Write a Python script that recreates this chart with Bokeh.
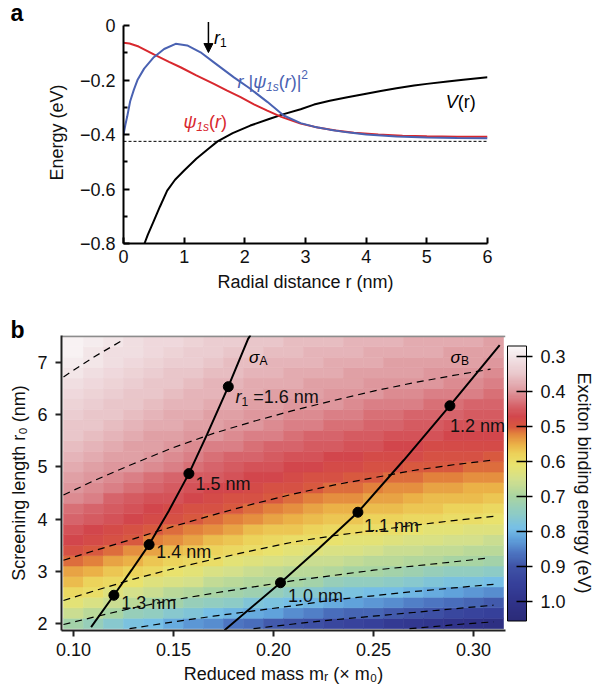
import numpy as np
from bokeh.plotting import figure
from bokeh.models import (Range1d, FixedTicker, CustomJSTickFormatter, Label, Arrow, Title,
                          NormalHead, LinearColorMapper, ColorBar, ColumnDataSource, AllLabels)
from bokeh.embed import file_html
from bokeh.resources import INLINE

FONT = "Liberation Sans"
BLUE = "#4a62b2"
RED = "#d8282e"

# ---------------- panel a data ----------------
A_XTICKS = [0, 1, 2, 3, 4, 5, 6]
A_YTICKS = [0, -0.2, -0.4, -0.6, -0.8]
A_YMINOR = [-0.1, -0.3, -0.5, -0.7]

R_V = [0.346, 0.40, 0.50, 0.60, 0.72, 0.85, 1.00, 1.20, 1.40, 1.55, 1.80, 2.09, 2.40, 2.64,
       2.92, 3.14, 3.40, 3.69, 4.00, 4.24, 4.50, 4.79, 5.00, 5.34, 5.60, 6.00]
E_V = [-0.800, -0.768, -0.717, -0.665, -0.606, -0.566, -0.532, -0.489, -0.452, -0.425, -0.395,
       -0.367, -0.343, -0.325, -0.307, -0.290, -0.276, -0.263, -0.250, -0.240, -0.230, -0.220,
       -0.214, -0.205, -0.199, -0.190]

R_PSI = [0.0, 0.1, 0.25, 0.5, 0.75, 0.94, 1.2, 1.49, 1.7, 1.93, 2.15, 2.37, 2.6, 2.92, 3.2,
         3.5, 3.8, 4.2, 4.6, 5.0, 5.5, 6.0]
E_PSI = [-0.063, -0.066, -0.077, -0.106, -0.133, -0.153, -0.183, -0.214, -0.238, -0.263,
         -0.289, -0.312, -0.335, -0.360, -0.374, -0.385, -0.393, -0.400, -0.404, -0.406,
         -0.408, -0.408]

R_RHO = [0.0, 0.03, 0.06, 0.11, 0.17, 0.23, 0.34, 0.50, 0.67, 0.86, 1.05, 1.27, 1.49, 1.82,
         2.09, 2.37, 2.64, 2.92, 3.14, 3.40, 3.69, 4.00, 4.50, 5.00, 5.50, 6.00]
E_RHO = [-0.400, -0.365, -0.335, -0.278, -0.236, -0.200, -0.158, -0.116, -0.086, -0.067,
         -0.073, -0.098, -0.135, -0.190, -0.232, -0.280, -0.330, -0.358, -0.371, -0.382,
         -0.392, -0.400, -0.407, -0.411, -0.413, -0.414]

E_LEVEL = -0.425
R_LEVEL = [0.0, 6.0]
R1_POS = 1.40

# ---------------- panel b data ----------------
B_XTICKS = [0.10, 0.15, 0.20, 0.25, 0.30]
B_YTICKS = [2, 3, 4, 5, 6, 7]
CB_TICKS = [0.3, 0.4, 0.5, 0.6, 0.7, 0.8, 0.9, 1.0]

M_CENTERS = [0.10, 0.11, 0.12, 0.13, 0.14, 0.15, 0.16, 0.17, 0.18, 0.19, 0.20,
             0.21, 0.22, 0.23, 0.24, 0.25, 0.26, 0.27, 0.28, 0.29, 0.30, 0.31]
R0_CENTERS = [2.0, 2.2, 2.4, 2.6, 2.8, 3.0, 3.2, 3.4, 3.6, 3.8, 4.0, 4.2, 4.4, 4.6,
              4.8, 5.0, 5.2, 5.4, 5.6, 5.8, 6.0, 6.2, 6.4, 6.6, 6.8, 7.0, 7.2, 7.4]

# exciton binding energy (eV), one list per reduced-mass column, bottom -> top
HEAT = [
    [0.71,0.66,0.62,0.59,0.56,0.54,0.51,0.49,0.47,0.46,0.44,0.43,0.41,0.40,0.39,0.38,0.37,0.36,0.35,0.35,0.34,0.33,0.32,0.31,0.30,0.29,0.28,0.28],
    [0.73,0.68,0.64,0.60,0.58,0.55,0.52,0.50,0.48,0.47,0.45,0.44,0.42,0.41,0.40,0.39,0.38,0.37,0.36,0.35,0.35,0.34,0.33,0.32,0.31,0.30,0.30,0.29],
    [0.76,0.70,0.66,0.63,0.59,0.57,0.54,0.51,0.49,0.48,0.46,0.45,0.44,0.42,0.41,0.40,0.39,0.38,0.37,0.36,0.35,0.35,0.34,0.33,0.32,0.31,0.31,0.30],
    [0.78,0.73,0.68,0.65,0.61,0.58,0.55,0.53,0.50,0.49,0.47,0.46,0.45,0.43,0.42,0.40,0.39,0.39,0.38,0.37,0.36,0.35,0.35,0.34,0.33,0.32,0.31,0.31],
    [0.79,0.74,0.70,0.66,0.63,0.59,0.57,0.54,0.52,0.50,0.48,0.47,0.46,0.44,0.43,0.41,0.40,0.39,0.39,0.38,0.37,0.36,0.35,0.35,0.34,0.33,0.32,0.32],
    [0.81,0.76,0.71,0.68,0.64,0.61,0.58,0.56,0.53,0.51,0.49,0.48,0.46,0.45,0.44,0.42,0.41,0.40,0.39,0.38,0.38,0.37,0.36,0.35,0.35,0.34,0.33,0.32],
    [0.83,0.77,0.73,0.69,0.65,0.62,0.59,0.57,0.54,0.52,0.50,0.49,0.47,0.46,0.45,0.43,0.42,0.41,0.40,0.39,0.38,0.37,0.37,0.36,0.35,0.34,0.34,0.33],
    [0.84,0.79,0.74,0.70,0.67,0.64,0.60,0.58,0.56,0.53,0.51,0.49,0.48,0.47,0.45,0.44,0.43,0.42,0.40,0.39,0.39,0.38,0.37,0.37,0.36,0.35,0.34,0.34],
    [0.86,0.80,0.75,0.71,0.68,0.65,0.62,0.59,0.57,0.54,0.52,0.50,0.49,0.47,0.46,0.45,0.44,0.42,0.41,0.40,0.39,0.38,0.38,0.37,0.36,0.36,0.35,0.34],
    [0.87,0.81,0.77,0.72,0.69,0.66,0.63,0.60,0.58,0.56,0.53,0.51,0.49,0.48,0.47,0.46,0.44,0.43,0.42,0.40,0.40,0.39,0.38,0.38,0.37,0.36,0.35,0.35],
    [0.89,0.82,0.78,0.73,0.69,0.67,0.64,0.61,0.59,0.57,0.54,0.52,0.50,0.49,0.47,0.46,0.45,0.44,0.42,0.41,0.40,0.39,0.39,0.38,0.37,0.37,0.36,0.35],
    [0.90,0.84,0.79,0.75,0.70,0.68,0.65,0.62,0.60,0.57,0.55,0.53,0.51,0.49,0.48,0.47,0.46,0.44,0.43,0.42,0.41,0.40,0.39,0.38,0.38,0.37,0.36,0.36],
    [0.91,0.85,0.80,0.76,0.71,0.68,0.66,0.63,0.60,0.58,0.56,0.54,0.52,0.50,0.49,0.47,0.46,0.45,0.44,0.42,0.41,0.40,0.39,0.39,0.38,0.37,0.37,0.36],
    [0.93,0.87,0.81,0.77,0.73,0.69,0.66,0.64,0.61,0.59,0.57,0.55,0.53,0.51,0.49,0.48,0.47,0.45,0.44,0.43,0.42,0.40,0.40,0.39,0.38,0.38,0.37,0.36],
    [0.94,0.88,0.82,0.78,0.74,0.70,0.67,0.64,0.62,0.59,0.57,0.55,0.53,0.51,0.50,0.48,0.47,0.46,0.45,0.43,0.42,0.41,0.40,0.39,0.39,0.38,0.37,0.37],
    [0.95,0.88,0.83,0.79,0.74,0.70,0.68,0.65,0.62,0.60,0.58,0.56,0.54,0.52,0.50,0.49,0.48,0.46,0.45,0.44,0.43,0.42,0.40,0.40,0.39,0.38,0.38,0.37],
    [0.97,0.89,0.84,0.79,0.75,0.71,0.68,0.66,0.63,0.60,0.58,0.56,0.54,0.53,0.51,0.49,0.48,0.47,0.46,0.44,0.43,0.42,0.41,0.40,0.39,0.39,0.38,0.37],
    [0.98,0.90,0.85,0.80,0.76,0.72,0.69,0.66,0.64,0.61,0.59,0.57,0.55,0.53,0.51,0.50,0.48,0.47,0.46,0.45,0.44,0.42,0.41,0.40,0.39,0.39,0.38,0.38],
    [0.99,0.91,0.86,0.81,0.77,0.73,0.69,0.67,0.64,0.62,0.59,0.57,0.56,0.54,0.52,0.50,0.49,0.48,0.46,0.45,0.44,0.43,0.42,0.40,0.40,0.39,0.38,0.38],
    [1.00,0.93,0.87,0.82,0.78,0.74,0.70,0.67,0.65,0.62,0.60,0.58,0.56,0.54,0.52,0.50,0.49,0.48,0.47,0.46,0.44,0.43,0.42,0.41,0.40,0.39,0.39,0.38],
    [1.01,0.94,0.88,0.83,0.78,0.74,0.70,0.68,0.65,0.63,0.60,0.58,0.56,0.55,0.53,0.51,0.49,0.48,0.47,0.46,0.45,0.44,0.42,0.41,0.40,0.39,0.39,0.38],
    [1.02,0.95,0.89,0.84,0.79,0.75,0.71,0.68,0.66,0.63,0.61,0.59,0.57,0.55,0.53,0.51,0.50,0.48,0.47,0.46,0.45,0.44,0.43,0.42,0.41,0.40,0.39,0.39],
]

# iso-energy contours (dashed), levels 0.3 ... 1.0 eV
C03_M = [0.095, 0.100, 0.110, 0.1235]
C03_R = [6.72, 6.85, 7.10, 7.40]
C04_M = [0.095, 0.11, 0.13, 0.15, 0.17, 0.19, 0.21, 0.23, 0.25, 0.27, 0.29, 0.3085]
C04_R = [4.46, 4.73, 5.06, 5.37, 5.64, 5.87, 6.08, 6.27, 6.45, 6.61, 6.75, 6.87]
C05_M = [0.095, 0.11, 0.13, 0.15, 0.17, 0.19, 0.21, 0.23, 0.25, 0.27, 0.29, 0.31]
C05_R = [3.21, 3.39, 3.62, 3.86, 4.08, 4.29, 4.48, 4.65, 4.79, 4.93, 5.04, 5.13]
C06_M = [0.095, 0.11, 0.13, 0.15, 0.17, 0.19, 0.21, 0.23, 0.25, 0.27, 0.29, 0.31]
C06_R = [2.44, 2.62, 2.85, 3.05, 3.23, 3.40, 3.56, 3.68, 3.78, 3.88, 3.97, 4.05]
C07_M = [0.095, 0.11, 0.13, 0.15, 0.17, 0.19, 0.21, 0.23, 0.25, 0.27, 0.29, 0.307]
C07_R = [1.98, 2.12, 2.30, 2.45, 2.58, 2.70, 2.82, 2.92, 3.02, 3.10, 3.18, 3.25]
C08_M = [0.128, 0.15, 0.17, 0.19, 0.21, 0.23, 0.25, 0.27, 0.29, 0.31]
C08_R = [1.90, 2.03, 2.14, 2.24, 2.34, 2.45, 2.53, 2.61, 2.68, 2.75]
C09_M = [0.19, 0.21, 0.23, 0.25, 0.27, 0.29, 0.31]
C09_R = [1.90, 1.99, 2.07, 2.14, 2.21, 2.28, 2.35]
C10_M = [0.268, 0.28, 0.295, 0.31]
C10_R = [1.90, 1.94, 1.99, 2.03]

SIGMA_A_M = [0.1088, 0.1202, 0.129, 0.1378, 0.1477, 0.1577, 0.1668, 0.1774, 0.1873, 0.1885]
SIGMA_A_R0 = [1.93, 2.54, 3.02, 3.51, 4.16, 4.87, 5.62, 6.535, 7.45, 7.52]
SIGMA_B_M = [0.1755, 0.2035, 0.2228, 0.2422, 0.2652, 0.2882, 0.3131]
SIGMA_B_R0 = [1.87, 2.78, 3.44, 4.13, 5.13, 6.17, 7.33]
DOT_A_M = [0.1202, 0.1378, 0.1577, 0.1774]
DOT_A_R0 = [2.54, 3.51, 4.87, 6.535]
DOT_B_M = [0.2035, 0.2422, 0.2882]
DOT_B_R0 = [2.78, 4.13, 6.17]
R1_A_LABELS = ["1.3 nm", "1.4 nm", "1.5 nm"]
R1_B_LABELS = ["1.0 nm", "1.1 nm", "1.2 nm"]

# ---------------- helpers ----------------
CW = {' ': 0.278, '(': 0.333, ')': 0.333, '.': 0.278, '=': 0.584, '|': 0.26, '\u00d7': 0.584,
      'A': 0.667, 'B': 0.667, 'E': 0.667, 'R': 0.722, 'S': 0.667, 'V': 0.667,
      'a': 0.556, 'b': 0.556, 'c': 0.5, 'd': 0.556, 'e': 0.556, 'g': 0.556, 'h': 0.556,
      'i': 0.222, 'l': 0.222, 'm': 0.833, 'n': 0.556, 'o': 0.556, 'r': 0.333, 's': 0.5,
      't': 0.278, 'u': 0.556, 'x': 0.5, 'y': 0.5, 'v': 0.5, '\u03c8': 0.71, '\u03c3': 0.62}


def tw(s, size):
    return sum(CW.get(c, 0.556) for c in s) * size


def rich(p, segs, x, y, align="left", color="#000000"):
    total = sum(tw(t, sz) for t, sz, st, sh in segs)
    pos = {"left": 0.0, "center": -total / 2.0, "right": -total}[align]
    for t, sz, st, sh in segs:
        body = t.lstrip(" ")
        lead = tw(t[:len(t) - len(body)], sz)
        p.add_layout(Label(x=x, y=y, x_offset=pos + lead, y_offset=sh, text=body,
                           text_align="left", text_baseline="alphabetic", text_font=FONT,
                           text_font_size=f"{sz}px", text_font_style=st, text_color=color))
        pos += tw(t, sz)


def style_axis(ax, lw, color, tin, tout, std, lstd):
    ax.axis_line_width = lw
    ax.axis_line_color = color
    ax.major_tick_line_width = lw
    ax.major_tick_line_color = color
    ax.major_tick_in = tin
    ax.major_tick_out = tout
    ax.major_label_standoff = std
    ax.major_label_text_font = FONT
    ax.major_label_text_font_size = "18px"
    ax.major_label_text_color = "#111111"
    ax.axis_label_text_font = FONT
    ax.axis_label_text_font_size = "18px"
    ax.axis_label_text_font_style = "normal"
    ax.axis_label_text_color = "#111111"
    ax.axis_label_standoff = lstd


def panel_letter(p, letter, offset, standoff):
    p.title.text = letter
    p.title.align = "left"
    p.title.offset = offset
    p.title.standoff = standoff
    p.title.text_font = FONT
    p.title.text_font_size = "23px"
    p.title.text_font_style = "bold"
    p.title.text_color = "black"


# ---------------- panel a ----------------
pa = figure(frame_width=364, frame_height=222, min_border_left=123, min_border_right=108,
            min_border_top=21, min_border_bottom=75, x_range=Range1d(0, 6),
            y_range=Range1d(-0.8, 0.015), output_backend="svg", toolbar_location=None, tools="")
pa.outline_line_color = None
pa.xgrid.visible = False
pa.ygrid.visible = False
panel_letter(pa, "a", -113, -9)

xa = pa.xaxis[0]
ya = pa.yaxis[0]
style_axis(xa, 2, "black", 6, 0, 6, 6)
style_axis(ya, 2, "black", 6, 0, 8, 10)
xa.ticker = FixedTicker(ticks=A_XTICKS)
xa.minor_tick_line_color = None
xa.axis_label = "Radial distance r (nm)"
ya.ticker = FixedTicker(ticks=A_YTICKS, minor_ticks=A_YMINOR)
ya.formatter = CustomJSTickFormatter(
    code="return tick == 0 ? '0' : '\\u2212' + Math.abs(tick).toFixed(1);")
ya.bounds = (-0.8, 0)
ya.minor_tick_in = 4
ya.minor_tick_out = 0
ya.minor_tick_line_width = 2
ya.minor_tick_line_color = "black"
ya.axis_label = "Energy (eV)"

pa.line(R_V, E_V, line_color="black", line_width=2)
pa.line(R_LEVEL, [E_LEVEL, E_LEVEL], line_color="black", line_width=1, line_dash="3 2")
pa.line(R_PSI, E_PSI, line_color=RED, line_width=2)
pa.line(R_RHO, E_RHO, line_color=BLUE, line_width=2)
pa.add_layout(Arrow(end=NormalHead(size=9, fill_color="black", line_color="black"),
                    x_start=R1_POS, y_start=0.013, x_end=R1_POS, y_end=-0.099,
                    line_color="black", line_width=1.5))

rich(pa, [("r", 18, "italic", 0), ("1", 12, "normal", -5)], 1.49, -0.044)
rich(pa, [("r", 18, "italic", 0), (" |", 18, "normal", 0), ("\u03c8", 18, "italic", 0),
          ("1s", 12, "italic", -5), ("(", 18, "normal", 0), ("r", 18, "italic", 0),
          (")", 18, "normal", 0), ("|", 18, "normal", 0), ("2", 12, "normal", 8)],
     1.88, -0.208, color=BLUE)
rich(pa, [("\u03c8", 18, "italic", 0), ("1s", 12, "italic", -5), ("(", 18, "normal", 0),
          ("r", 18, "italic", 0), (")", 18, "normal", 0)], 0.99, -0.355, color=RED)
rich(pa, [("V", 18, "italic", 0), ("(r)", 18, "normal", 0)], 5.31, -0.281)

# ---------------- panel b ----------------
pb = figure(frame_width=444, frame_height=295, min_border_left=61, min_border_right=90,
            min_border_top=17, min_border_bottom=55, x_range=Range1d(0.094, 0.316),
            y_range=Range1d(1.865, 7.515), output_backend="svg", toolbar_location=None, tools="")
pb.outline_line_color = None
pb.xgrid.visible = False
pb.ygrid.visible = False
panel_letter(pb, "b", -51, -15)

xb = pb.xaxis[0]
yb = pb.yaxis[0]
style_axis(xb, 2, "#222222", 0, 6, 6, 5)
style_axis(yb, 2, "#222222", 0, 6, 8, 5)
xb.ticker = FixedTicker(ticks=B_XTICKS)
xb.formatter = CustomJSTickFormatter(code="return tick.toFixed(2);")
xb.minor_tick_line_color = None
xb.axis_label = "Reduced mass m\u1d63 (\u00d7 m\u2080)"
yb.ticker = FixedTicker(ticks=B_YTICKS)
yb.minor_tick_line_color = None
yb.axis_label = "Screening length r\u2080 (nm)"

# colour map (style)
CMAP_ANCHORS = [(1.055, "#2b2b78"), (1.00, "#30338a"), (0.95, "#36409a"), (0.90, "#3f53a6"),
                (0.86, "#4d76c2"), (0.82, "#61a3dc"), (0.79, "#76bfe6"), (0.75, "#8dcbc6"),
                (0.70, "#a9d4a2"), (0.65, "#d3e08c"), (0.61, "#e9e36e"), (0.58, "#ecd35a"),
                (0.55, "#ebb147"), (0.52, "#e2823c"), (0.50, "#d8573f"), (0.47, "#d2464c"),
                (0.44, "#d6636a"), (0.40, "#de969c"), (0.35, "#e9c6ca"), (0.30, "#f2e4e7"),
                (0.27, "#fbf8f9")]
av = np.array([a[0] for a in CMAP_ANCHORS])
argb = np.array([[int(a[1][i:i + 2], 16) for i in (1, 3, 5)] for a in CMAP_ANCHORS], float)
steps = np.linspace(1.055, 0.27, 256)
PAL = []
for s in steps:
    rgb = [np.interp(-s, -av, argb[:, k]) for k in range(3)]
    PAL.append("#%02x%02x%02x" % tuple(int(round(c)) for c in rgb))

mapper = LinearColorMapper(palette=PAL, low=-1.055, high=-0.27)

hx, hy, hc = [], [], []
for m, col in zip(M_CENTERS, HEAT):
    for r0, v in zip(R0_CENTERS, col):
        hx.append(m)
        hy.append(r0)
        hc.append(-v)
src = ColumnDataSource(dict(x=hx, y=hy, c=hc))
pb.rect(x="x", y="y", width=0.01, height=0.2, source=src,
        fill_color={"field": "c", "transform": mapper},
        line_color={"field": "c", "transform": mapper}, line_width=0.6)

# grey top border of the map
pb.line([0.094, 0.316], [7.50, 7.50], line_color="#8c8c8c", line_width=2)

for ms, rs in [(C03_M, C03_R), (C04_M, C04_R), (C05_M, C05_R), (C06_M, C06_R),
               (C07_M, C07_R), (C08_M, C08_R), (C09_M, C09_R), (C10_M, C10_R)]:
    pb.line(ms, rs, line_color="black", line_width=1.2, line_dash="7 5")

pb.line(SIGMA_A_M, SIGMA_A_R0, line_color="black", line_width=2)
pb.line(SIGMA_B_M, SIGMA_B_R0, line_color="black", line_width=2)
pb.scatter(DOT_A_M, DOT_A_R0, size=10, fill_color="black", line_color="black")
pb.scatter(DOT_B_M, DOT_B_R0, size=10, fill_color="black", line_color="black")

rich(pb, [("\u03c3", 17, "italic", 0), ("A", 12, "normal", -4)], 0.1877, 7.095)
rich(pb, [("\u03c3", 17, "italic", 0), ("B", 12, "normal", -4)], 0.2885, 7.095)
rich(pb, [("r", 18, "italic", 0), ("1", 12, "normal", -4), (" =1.6 nm", 18, "normal", 0)],
     0.181, 6.33, color="#111111")
for txt, (lx, ly) in zip(R1_A_LABELS, [(0.1239, 2.388), (0.1414, 3.363), (0.161, 4.672)]):
    rich(pb, [(txt, 18, "normal", 0)], lx, ly, color="#111111")
for txt, (lx, ly) in zip(R1_B_LABELS, [(0.2072, 2.535), (0.2452, 3.874), (0.2882, 5.788)]):
    rich(pb, [(txt, 18, "normal", 0)], lx, ly, color="#111111")

cb = ColorBar(color_mapper=mapper, ticker=FixedTicker(ticks=sorted(-t for t in CB_TICKS)),
              formatter=CustomJSTickFormatter(code="return (-tick).toFixed(1);"),
              major_label_policy=AllLabels(),
              width=19, height=275, location="center_left", padding=2, margin=0,
              major_tick_in=10, major_tick_out=6, major_tick_line_color="black",
              major_tick_line_width=1.5, bar_line_color="black", bar_line_width=1,
              label_standoff=8, major_label_text_font=FONT, major_label_text_font_size="18px",
              major_label_text_color="#111111", minor_tick_line_color=None)
pb.add_layout(cb, "right")
pb.add_layout(Title(text="Exciton binding energy (eV)", align="center", standoff=6,
                    text_font=FONT, text_font_size="18px", text_font_style="normal",
                    text_color="#111111"), "right")

with open("out.html", "w", encoding="utf-8") as f:
    f.write(file_html([pa, pb], INLINE, title="exciton"))
